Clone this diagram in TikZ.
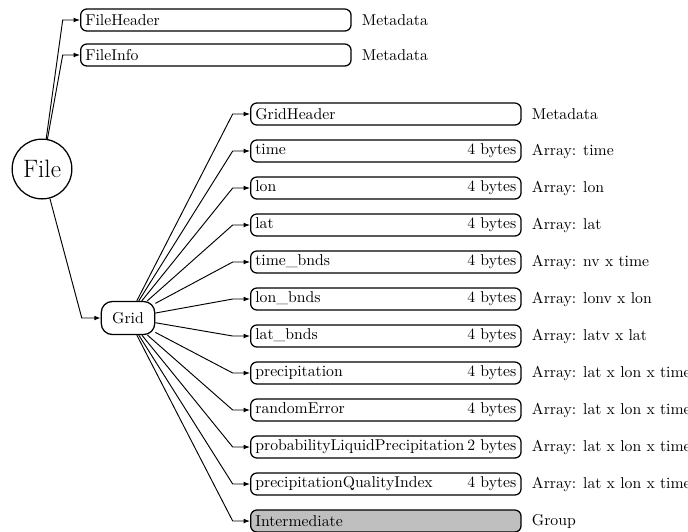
\documentclass[tikz,border=0pt]{standalone}
\usetikzlibrary{arrows.meta,positioning}

\tikzset{
  field/.style={draw,thick,rounded corners=4pt,minimum height=14pt,
    text width=166pt,inner xsep=3pt,inner ysep=1pt,anchor=west,align=left},
  note/.style={anchor=west},
  link/.style={semithick,-{Latex[length=4pt,width=3pt]}},
}

\begin{document}
\begin{tikzpicture}[x=0.636pt,y=-0.636pt]
\useasboundingbox (0,0) rectangle (688,531);

% Draw top level
\node[draw,thick,circle,minimum size=38pt,inner sep=0pt,
  font=\fontsize{16}{19}\selectfont] (file) at (42,169) {File};
\node[field] (fileheader) at (80,20) {FileHeader};
\node[note,right=3pt of fileheader] {Metadata};
\node[field] (fileinfo) at (80,55) {FileInfo};
\node[note,right=3pt of fileinfo] {Metadata};
\node[draw,thick,rounded corners=7pt,minimum width=34pt,minimum height=21pt] (grid) at (128,318) {Grid};

\draw[link] (file) -- ([xshift=-11pt]fileheader.west) -- (fileheader.west);
\draw[link] (file) -- ([xshift=-11pt]fileinfo.west) -- (fileinfo.west);
\draw[link] (file) -- ([xshift=-12pt]grid.west) -- (grid.west);

% Draw grid members
\node[field] (gridheader) at (250,114) {GridHeader};
\node[note,right=3pt of gridheader] {Metadata};
\draw[link] (grid) -- ([xshift=-11pt]gridheader.west) -- (gridheader.west);

\foreach \name/\txt/\size/\info [count=\k from 0] in {
    time/time/4/time,
    lon/lon/4/lon,
    lat/lat/4/lat,
    timebnds/time\_bnds/4/nv x time,
    lonbnds/lon\_bnds/4/lonv x lon,
    latbnds/lat\_bnds/4/latv x lat,
    precip/precipitation/4/lat x lon x time,
    randerr/randomError/4/lat x lon x time,
    probliquid/probabilityLiquidPrecipitation/2/lat x lon x time,
    quality/precipitationQualityIndex/4/lat x lon x time}
{
  \node[field] (\name) at (250,151+37*\k) {\hbox to\linewidth{\txt\hfill\size{} bytes}};
  \node[note,right=3pt of \name] {Array: \info};
  \draw[link] (grid) -- ([xshift=-11pt]\name.west) -- (\name.west);
}

\node[field,fill=gray!50] (intermediate) at (250,521) {Intermediate};
\node[note,right=3pt of intermediate] {Group};
\draw[link] (grid) -- ([xshift=-11pt]intermediate.west) -- (intermediate.west);
\end{tikzpicture}
\end{document}
